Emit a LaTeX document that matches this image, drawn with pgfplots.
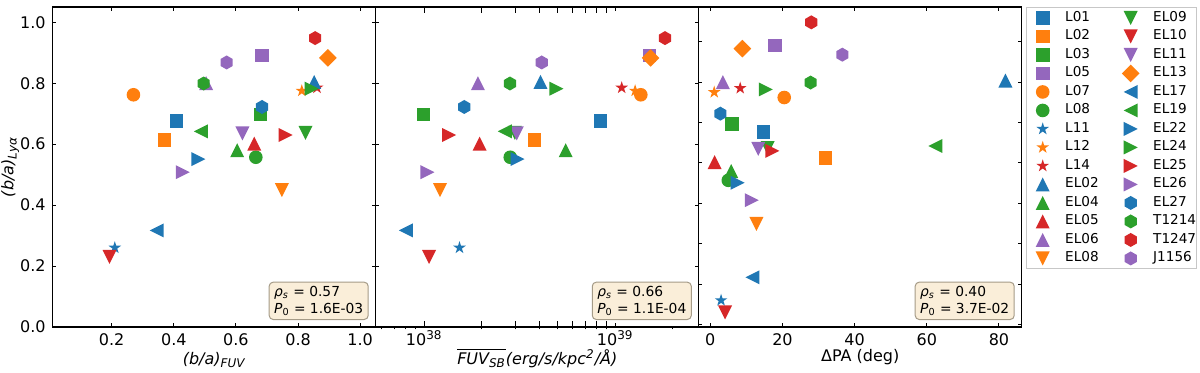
\documentclass[border=0pt]{standalone}
\usepackage{fontspec}
\setmainfont{DejaVu Sans}
\usepackage{pgfplots}
\usepackage{pgfplotstable}
\pgfplotsset{compat=1.18}

\definecolor{c0}{HTML}{1F77B4}
\definecolor{c1}{HTML}{FF7F0E}
\definecolor{c2}{HTML}{2CA02C}
\definecolor{c3}{HTML}{D62728}
\definecolor{c4}{HTML}{9467BD}
\definecolor{boxfill}{RGB}{250,238,217}
\definecolor{boxedge}{RGB}{165,155,135}

% matplotlib-like filled markers
\pgfdeclareplotmark{msq}{\pgfpathrectangle{\pgfqpoint{-\pgfplotmarksize}{-\pgfplotmarksize}}{\pgfqpoint{2\pgfplotmarksize}{2\pgfplotmarksize}}\pgfusepathqfill}
\pgfdeclareplotmark{mcirc}{\pgfpathcircle{\pgfpointorigin}{\pgfplotmarksize}\pgfusepathqfill}
\pgfdeclareplotmark{mtu}{\pgfpathmoveto{\pgfqpoint{0pt}{\pgfplotmarksize}}\pgfpathlineto{\pgfqpoint{-\pgfplotmarksize}{-\pgfplotmarksize}}\pgfpathlineto{\pgfqpoint{\pgfplotmarksize}{-\pgfplotmarksize}}\pgfpathclose\pgfusepathqfill}
\pgfdeclareplotmark{mtd}{\pgfpathmoveto{\pgfqpoint{0pt}{-\pgfplotmarksize}}\pgfpathlineto{\pgfqpoint{-\pgfplotmarksize}{\pgfplotmarksize}}\pgfpathlineto{\pgfqpoint{\pgfplotmarksize}{\pgfplotmarksize}}\pgfpathclose\pgfusepathqfill}
\pgfdeclareplotmark{mtl}{\pgfpathmoveto{\pgfqpoint{-\pgfplotmarksize}{0pt}}\pgfpathlineto{\pgfqpoint{\pgfplotmarksize}{\pgfplotmarksize}}\pgfpathlineto{\pgfqpoint{\pgfplotmarksize}{-\pgfplotmarksize}}\pgfpathclose\pgfusepathqfill}
\pgfdeclareplotmark{mtr}{\pgfpathmoveto{\pgfqpoint{\pgfplotmarksize}{0pt}}\pgfpathlineto{\pgfqpoint{-\pgfplotmarksize}{\pgfplotmarksize}}\pgfpathlineto{\pgfqpoint{-\pgfplotmarksize}{-\pgfplotmarksize}}\pgfpathclose\pgfusepathqfill}
\pgfdeclareplotmark{mdia}{\pgfpathmoveto{\pgfqpoint{0pt}{\pgfplotmarksize}}\pgfpathlineto{\pgfqpoint{\pgfplotmarksize}{0pt}}\pgfpathlineto{\pgfqpoint{0pt}{-\pgfplotmarksize}}\pgfpathlineto{\pgfqpoint{-\pgfplotmarksize}{0pt}}\pgfpathclose\pgfusepathqfill}
\pgfdeclareplotmark{mhex}{\pgfpathmoveto{\pgfpointpolar{90}{\pgfplotmarksize}}%
  \pgfpathlineto{\pgfpointpolar{150}{\pgfplotmarksize}}\pgfpathlineto{\pgfpointpolar{210}{\pgfplotmarksize}}%
  \pgfpathlineto{\pgfpointpolar{270}{\pgfplotmarksize}}\pgfpathlineto{\pgfpointpolar{330}{\pgfplotmarksize}}%
  \pgfpathlineto{\pgfpointpolar{30}{\pgfplotmarksize}}\pgfpathclose\pgfusepathqfill}
\pgfdeclareplotmark{mstar}{\pgfpathmoveto{\pgfpointpolar{90}{\pgfplotmarksize}}%
  \pgfpathlineto{\pgfpointpolar{126}{0.382\pgfplotmarksize}}\pgfpathlineto{\pgfpointpolar{162}{\pgfplotmarksize}}%
  \pgfpathlineto{\pgfpointpolar{198}{0.382\pgfplotmarksize}}\pgfpathlineto{\pgfpointpolar{234}{\pgfplotmarksize}}%
  \pgfpathlineto{\pgfpointpolar{270}{0.382\pgfplotmarksize}}\pgfpathlineto{\pgfpointpolar{306}{\pgfplotmarksize}}%
  \pgfpathlineto{\pgfpointpolar{342}{0.382\pgfplotmarksize}}\pgfpathlineto{\pgfpointpolar{18}{\pgfplotmarksize}}%
  \pgfpathlineto{\pgfpointpolar{54}{0.382\pgfplotmarksize}}\pgfpathclose\pgfusepathqfill}

% one row per object: (b/a)_FUV, mean FUV_SB, Delta PA, (b/a)_Lya
\pgfplotstableread{
name  bafuv  fuvsb    dpa   balya
L01   0.409  8.37e38  14.7  0.676
L02   0.370  3.78e38  31.9  0.613
L03   0.679  9.93e37  6.1   0.697
L05   0.684  1.51e39  17.9  0.891
L07   0.270  1.36e39  20.5  0.762
L08   0.664  2.82e38  5.0   0.557
L11   0.210  1.53e38  3.0   0.260
L12   0.812  1.27e39  1.1   0.775
L14   0.861  1.08e39  8.3   0.785
EL02  0.852  4.06e38  81.8  0.804
EL04  0.604  5.50e38  5.8   0.580
EL05  0.659  1.95e38  1.2   0.602
EL06  0.504  1.91e38  3.5   0.800
EL08  0.748  1.21e38  12.8  0.449
EL09  0.824  2.98e38  15.9  0.637
EL10  0.193  1.06e38  4.1   0.230
EL11  0.621  3.05e38  13.3  0.635
EL13  0.896  1.53e39  8.9   0.883
EL17  0.345  8.02e37  11.7  0.317
EL19  0.487  2.64e38  62.4  0.642
EL22  0.479  3.08e38  7.6   0.551
EL24  0.844  4.92e38  15.4  0.782
EL25  0.760  1.35e38  17.2  0.630
EL26  0.429  1.04e38  11.5  0.508
EL27  0.684  1.62e38  2.8   0.722
T1214 0.496  2.81e38  27.8  0.799
T1247 0.855  1.82e39  28.0  0.948
J1156 0.570  4.12e38  36.6  0.868
}\objs

\tikzset{
  statbox/.style={draw=boxedge, fill=boxfill, line width=0.5pt, rounded corners=2pt,
    anchor=south east, xshift=-3.5pt, yshift=3.5pt, align=left,
    inner xsep=2.5pt, inner ysep=2pt, font=\fontsize{6.9}{8.3}\selectfont},
}

\pgfplotsset{
  /pgf/number format/assume math mode=true,
  s0/.style={mark=msq,color=c0,mark size=3.4pt},
  s1/.style={mark=msq,color=c1,mark size=3.4pt},
  s2/.style={mark=msq,color=c2,mark size=3.4pt},
  s3/.style={mark=msq,color=c4,mark size=3.4pt},
  s4/.style={mark=mcirc,color=c1,mark size=3.4pt},
  s5/.style={mark=mcirc,color=c2,mark size=3.4pt},
  s6/.style={mark=mstar,color=c0,mark size=3.3pt},
  s7/.style={mark=mstar,color=c1,mark size=3.3pt},
  s8/.style={mark=mstar,color=c3,mark size=3.3pt},
  s9/.style={mark=mtu,color=c0,mark size=3.5pt},
  s10/.style={mark=mtu,color=c2,mark size=3.5pt},
  s11/.style={mark=mtu,color=c3,mark size=3.5pt},
  s12/.style={mark=mtu,color=c4,mark size=3.5pt},
  s13/.style={mark=mtd,color=c1,mark size=3.5pt},
  s14/.style={mark=mtd,color=c2,mark size=3.5pt},
  s15/.style={mark=mtd,color=c3,mark size=3.5pt},
  s16/.style={mark=mtd,color=c4,mark size=3.5pt},
  s17/.style={mark=mdia,color=c1,mark size=4.4pt},
  s18/.style={mark=mtl,color=c0,mark size=3.5pt},
  s19/.style={mark=mtl,color=c2,mark size=3.5pt},
  s20/.style={mark=mtr,color=c0,mark size=3.5pt},
  s21/.style={mark=mtr,color=c2,mark size=3.5pt},
  s22/.style={mark=mtr,color=c3,mark size=3.5pt},
  s23/.style={mark=mtr,color=c4,mark size=3.5pt},
  s24/.style={mark=mhex,color=c0,mark size=3.5pt},
  s25/.style={mark=mhex,color=c2,mark size=3.5pt},
  s26/.style={mark=mhex,color=c3,mark size=3.5pt},
  s27/.style={mark=mhex,color=c4,mark size=3.5pt},
  pt/.style={only marks, forget plot},
  legimg/.style={legend image code/.code={%
    \draw[sharp corners,##1] plot coordinates {(0pt,0pt)};
    \path (-8pt,-4.375pt) (11pt,4.375pt);}},
  panel/.style={
    width=161.5pt, height=160pt, scale only axis,
    axis line style={line width=0.55pt},
    tick style={line width=0.5pt, black},
    tick align=inside, major tick length=1.8pt,
    tick label style={font=\fontsize{8}{9.6}\selectfont},
    label style={font=\fontsize{8}{9.6}\selectfont},
    xticklabel style={anchor=base, yshift=-9pt},
    xlabel style={at={(axis description cs:0.5,-0.1156)}, anchor=base},
    clip=false,
  },
}

\begin{document}
\begin{tikzpicture}
% panel 1: (b/a)_FUV
\begin{axis}[panel, at={(0pt,0pt)}, anchor=south west,
  xmin=0.01, xmax=1.05, ymin=0, ymax=1.05,
  xtick={0.2,0.4,0.6,0.8,1.0}, ytick={0,0.2,0.4,0.6,0.8,1.0},
  xticklabel style={/pgf/number format/.cd, fixed, fixed zerofill, precision=1},
  yticklabel style={/pgf/number format/.cd, fixed, fixed zerofill, precision=1},
  xlabel={\itshape (b/a)\textsubscript{FUV}},
  ylabel={\itshape (b/a)\textsubscript{Lyα}},
  ylabel style={at={(axis description cs:-0.1214,0.5)}, anchor=base},
]
\pgfplotsinvokeforeach{0,...,27}{
  \addplot[pt, s#1, restrict expr to domain={\coordindex}{#1:#1}] table[x=bafuv, y=balya] {\objs};
}
\node[statbox] at (rel axis cs:1,0) {{\itshape ρ}\textsubscript{\itshape s} = 0.57\\{\itshape P}\textsubscript{0} = 1.6E-03};
\end{axis}

% panel 2: mean FUV surface brightness
\begin{axis}[panel, at={(161.5pt,0pt)}, anchor=south west,
  xmode=log, xmin=5.58e37, xmax=2.735e39, ymin=0, ymax=1.05,
  xtick={1e38,1e39}, xticklabels={10\textsuperscript{38},10\textsuperscript{39}},
  minor xtick={},
  extra x ticks={6e37,7e37,8e37,9e37,2e38,3e38,4e38,5e38,6e38,7e38,8e38,9e38,2e39},
  extra x tick labels={},
  extra x tick style={xtick align=outside, xtick pos=left, major tick length=1.2pt},
  ytick={0,0.2,0.4,0.6,0.8,1.0}, yticklabels={},
  xlabel={$\overline{\hbox{\itshape FUV\textsubscript{SB}}}$\textit{(erg/s/kpc\textsuperscript{2}/Å)}},
]
\pgfplotsinvokeforeach{0,...,27}{
  \addplot[pt, s#1, restrict expr to domain={\coordindex}{#1:#1}] table[x=fuvsb, y=balya] {\objs};
}
\node[statbox] at (rel axis cs:1,0) {{\itshape ρ}\textsubscript{\itshape s} = 0.66\\{\itshape P}\textsubscript{0} = 1.1E-04};
\end{axis}

% panel 3: Delta PA, own y range
\begin{axis}[panel, at={(323pt,0pt)}, anchor=south west,
  xmin=-3.2, xmax=86.3, ymin=0.194, ymax=0.986,
  xtick={0,20,40,60,80},
  ytick={0.2,0.3,0.4,0.5,0.6,0.7,0.8,0.9}, yticklabels={},
  xlabel={ΔPA (deg)},
  xlabel style={at={(axis description cs:0.5,-0.109)}, anchor=base},
  legend columns=2, legend cell align=left,
  legend style={at={(1,1)}, anchor=north west, xshift=2pt,
    draw=black!22, fill=white, line width=0.5pt,
    inner xsep=0pt, inner ysep=0.6pt, row sep=0pt,
    /tikz/column sep=0pt,
    /tikz/every even column/.append style={column sep=3pt},
    nodes={inner sep=0pt, text width=21.5pt, font=\fontsize{6.8}{8}\selectfont}},
]
\pgfplotsinvokeforeach{0,...,27}{
  \addplot[pt, s#1, restrict expr to domain={\coordindex}{#1:#1}] table[x=dpa, y=balya] {\objs};
}
\node[statbox] at (rel axis cs:1,0) {{\itshape ρ}\textsubscript{\itshape s} = 0.40\\{\itshape P}\textsubscript{0} = 3.7E-02};
% legend, filled row by row
\addlegendimage{only marks, s0, legimg}\addlegendentry{L01}
\addlegendimage{only marks, s14, legimg}\addlegendentry{EL09}
\addlegendimage{only marks, s1, legimg}\addlegendentry{L02}
\addlegendimage{only marks, s15, legimg}\addlegendentry{EL10}
\addlegendimage{only marks, s2, legimg}\addlegendentry{L03}
\addlegendimage{only marks, s16, legimg}\addlegendentry{EL11}
\addlegendimage{only marks, s3, legimg}\addlegendentry{L05}
\addlegendimage{only marks, s17, legimg}\addlegendentry{EL13}
\addlegendimage{only marks, s4, legimg}\addlegendentry{L07}
\addlegendimage{only marks, s18, legimg}\addlegendentry{EL17}
\addlegendimage{only marks, s5, legimg}\addlegendentry{L08}
\addlegendimage{only marks, s19, legimg}\addlegendentry{EL19}
\addlegendimage{only marks, s6, legimg}\addlegendentry{L11}
\addlegendimage{only marks, s20, legimg}\addlegendentry{EL22}
\addlegendimage{only marks, s7, legimg}\addlegendentry{L12}
\addlegendimage{only marks, s21, legimg}\addlegendentry{EL24}
\addlegendimage{only marks, s8, legimg}\addlegendentry{L14}
\addlegendimage{only marks, s22, legimg}\addlegendentry{EL25}
\addlegendimage{only marks, s9, legimg}\addlegendentry{EL02}
\addlegendimage{only marks, s23, legimg}\addlegendentry{EL26}
\addlegendimage{only marks, s10, legimg}\addlegendentry{EL04}
\addlegendimage{only marks, s24, legimg}\addlegendentry{EL27}
\addlegendimage{only marks, s11, legimg}\addlegendentry{EL05}
\addlegendimage{only marks, s25, legimg}\addlegendentry{T1214}
\addlegendimage{only marks, s12, legimg}\addlegendentry{EL06}
\addlegendimage{only marks, s26, legimg}\addlegendentry{T1247}
\addlegendimage{only marks, s13, legimg}\addlegendentry{EL08}
\addlegendimage{only marks, s27, legimg}\addlegendentry{J1156}
\end{axis}

\pgfresetboundingbox
\useasboundingbox (-26.35pt,-22.5pt) rectangle (573.65pt,163.5pt);
\end{tikzpicture}
\end{document}
